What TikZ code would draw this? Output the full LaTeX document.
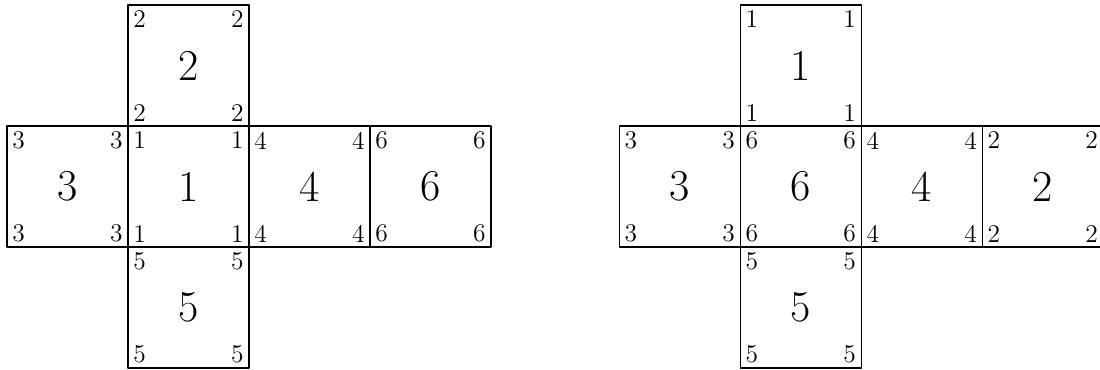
\documentclass[tikz,border=0pt]{standalone}
\usepackage{amsmath,amssymb}
\usetikzlibrary{calc}

\tikzset{
  face/.style={draw, line width=0.5pt, minimum size=2cm, inner sep=0pt, font=\huge},
  pip/.style={font=\large, inner sep=0pt},
}

% one face of the die: name, centre, number
\newcommand{\dieface}[3]{%
  \node[face] (#1) at (#2) {#3};
  \node[pip, anchor=north west] (#1-nw) at ($(#1.north west)+(0.09,-0.1)$) {#3};
  \node[pip, anchor=north east] (#1-ne) at ($(#1.north east)+(-0.09,-0.1)$) {#3};
  \node[pip, anchor=south west] (#1-sw) at ($(#1.south west)+(0.09,0.08)$) {#3};
  \node[pip, anchor=south east] (#1-se) at ($(#1.south east)+(-0.09,0.08)$) {#3};
}

\begin{document}
\begin{tikzpicture}[line cap=round, line join=round]

\clip (-0.116,-0.017) rectangle (18.066,6.083);

% First net
\begin{scope}
  \dieface{a3}{1,3}{3}
  \dieface{a1}{3,3}{1}
  \dieface{a2}{3,5}{2}
  \dieface{a4}{5,3}{4}
  \dieface{a6}{7,3}{6}
  \dieface{a5}{3,1}{5}
\end{scope}

% Second net, turned
\begin{scope}[xshift=10.12cm]
  \dieface{b3}{1,3}{3}
  \dieface{b6}{3,3}{6}
  \dieface{b1}{3,5}{1}
  \dieface{b4}{5,3}{4}
  \dieface{b2}{7,3}{2}
  \dieface{b5}{3,1}{5}
\end{scope}

\end{tikzpicture}
\end{document}
